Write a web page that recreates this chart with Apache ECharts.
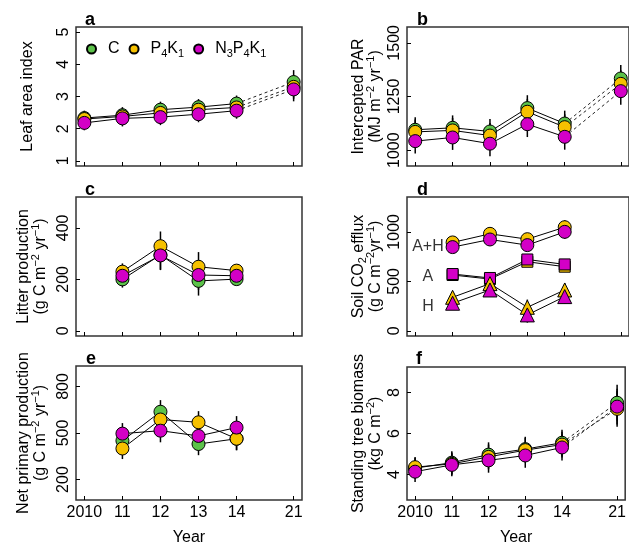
<!DOCTYPE html>
<html>
<head>
<meta charset="utf-8">
<script src="https://cdn.jsdelivr.net/npm/echarts@6/dist/echarts.min.js"></script>
<style>
html,body{margin:0;padding:0;background:#fff;}
#chart{width:629px;height:547px;}
</style>
</head>
<body>
<div id="chart"></div>
<script>
// ---------- data ----------
const years = [2010, 2011, 2012, 2013, 2014, 2021];
const xPositions = [0, 1, 2, 3, 4, 5.5];          // broken axis: 2021 drawn 1.5 units after 2014
const xTickLabels = ['2010', '11', '12', '13', '14', '21'];
const treatments = ['C', 'P4K1', 'N3P4K1'];
const colors = ['#5cc24a', '#f6c100', '#d300c6'];

// a: Leaf area index (2010-2014, 2021)
const laiC = [2.33, 2.42, 2.59, 2.67, 2.78, 3.45];
const laiP = [2.30, 2.38, 2.49, 2.59, 2.66, 3.30];
const laiN = [2.18, 2.32, 2.36, 2.45, 2.56, 3.22];
const laiErr = [0.23, 0.25, 0.25, 0.25, 0.25, 0.37];
const laiTicks = [1, 2, 3, 4, 5];

// b: Intercepted PAR
const parC = [1095, 1104, 1087, 1196, 1124, 1334];
const parP = [1085, 1092, 1068, 1179, 1107, 1309];
const parN = [1042, 1059, 1030, 1121, 1062, 1275];
const parErr = [58, 58, 58, 60, 60, 63];
const parTicks = [1000, 1250, 1500];

// c: Litter production (2011-2014)
const litC = [200, 295, 194, 201];
const litP = [230, 329, 249, 234];
const litN = [214, 293, 217, 214];
const litErr = [32, 57, 57, 24];
const litTicks = [0, 200, 400];

// d: Soil CO2 efflux (2011-2014), A+H / A / H, P4K1 and N3P4K1 only
const ahP = [893, 980, 926, 1047];
const ahN = [846, 923, 866, 1000];
const ahErr = [55, 52, 58, 70];
const aP = [564, 523, 698, 648];
const aN = [574, 534, 721, 671];
const aErr = [35, 35, 35, 35];
const hP = [339, 477, 238, 413];
const hN = [279, 413, 161, 346];
const hErr = [45, 55, 78, 68];
const effluxTicks = [0, 500, 1000];
const dLabels = ['A+H', 'A', 'H'];
const dLabelX = [0.34, 0.34, 0.34];
const dLabelY = [849, 547, 245];

// e: Net primary production (2011-2014)
const nppC = [450, 637, 429, 463];
const nppP = [400, 587, 569, 463];
const nppN = [496, 515, 481, 535];
const nppErr = [68, 75, 72, 74];
const nppTicks = [200, 500, 800];

// f: Standing tree biomass
const bioC = [4.31, 4.58, 4.97, 5.24, 5.55, 7.50];
const bioP = [4.36, 4.52, 4.86, 5.19, 5.46, 7.20];
const bioN = [4.14, 4.47, 4.69, 4.93, 5.32, 7.31];
const bioErr = [0.5, 0.55, 0.6, 0.6, 0.63, 0.87];
const bioTicks = [4, 6, 8];

// ---------- layout ----------
const grids = [
  {left: 76, top: 27, width: 226, height: 139},
  {left: 407, top: 27, width: 224, height: 139},
  {left: 76, top: 197, width: 226, height: 139},
  {left: 407, top: 197, width: 224, height: 139},
  {left: 76, top: 366, width: 226, height: 140},
  {left: 407, top: 367, width: 224, height: 139}
];
const yRanges = [[0.84, 5.16], [926, 1574], [-20, 520], [-52, 1352], [68, 932], [2.76, 9.24]];
const yTicks = [laiTicks, parTicks, litTicks, effluxTicks, nppTicks, bioTicks];

const richBase = {
  t: {fontSize: 16, lineHeight: 17, color: '#000', fontFamily: 'Liberation Sans'},
  sup: {fontSize: 11, lineHeight: 17, padding: [0, 0, 9, 0], color: '#000', fontFamily: 'Liberation Sans'},
  sub: {fontSize: 11, lineHeight: 17, padding: [8, 0, 0, 0], color: '#000', fontFamily: 'Liberation Sans'}
};
const yNames = [
  '{t|Leaf area index}',
  '{t|Intercepted PAR}\n{t|(MJ m}{sup|−2}{t| yr}{sup|−1}{t|)}',
  '{t|Litter production}\n{t|(g C m}{sup|−2}{t| yr}{sup|−1}{t|)}',
  '{t|Soil CO}{sub|2}{t| efflux}\n{t|(g C m}{sup|−2}{t|yr}{sup|−1}{t|)}',
  '{t|Net primary production}\n{t|(g C m}{sup|−2}{t| yr}{sup|−1}{t|)}',
  '{t|Standing tree biomass}\n{t|(kg C m}{sup|−2}{t|)}'
];
const yNameGaps = [40, 23, 27, 23, 27, 23];

const xAxes = grids.map((g, i) => ({
  type: 'value', gridIndex: i, min: -0.22, max: 5.72,
  axisLine: {show: false, onZero: false}, splitLine: {show: false},
  axisTick: {show: true, inside: true, length: 4, customValues: xPositions, lineStyle: {color: '#000', width: 1}},
  axisLabel: {show: i >= 4, customValues: xPositions, margin: 5, fontSize: 16, color: '#000', fontFamily: 'Liberation Sans',
    formatter: v => { const k = xPositions.indexOf(v); return k >= 0 ? xTickLabels[k] : ''; }},
  name: i >= 4 ? 'Year' : '', nameLocation: 'middle', nameGap: 30,
  nameTextStyle: {fontSize: 16, color: '#000', fontFamily: 'Liberation Sans'}
}));
const yAxes = grids.map((g, i) => ({
  type: 'value', gridIndex: i, min: yRanges[i][0], max: yRanges[i][1],
  axisLine: {show: false, onZero: false}, splitLine: {show: false},
  axisTick: {show: true, inside: true, length: 4, customValues: yTicks[i], lineStyle: {color: '#000', width: 1}},
  axisLabel: {customValues: yTicks[i], rotate: 90, margin: 4, fontSize: 16, color: '#000', fontFamily: 'Liberation Sans',
    formatter: v => String(v)},
  name: yNames[i], nameLocation: 'middle', nameRotate: 90, nameGap: yNameGaps[i],
  nameTextStyle: {rich: richBase}
}));

const series = [];
function pts(xs, ys) { return ys.map((v, k) => [xs[k], v]); }

function addTreatment(gi, ti, values, errs, xs, opts) {
  opts = opts || {};
  const col = colors[ti];
  series.push({
    type: 'custom', xAxisIndex: gi, yAxisIndex: gi, z: 1, silent: true,
    encode: {x: 0, y: [1, 2]},
    data: values.map((v, k) => [xs[k], v - errs[k], v + errs[k]]),
    renderItem: (params, api) => {
      const p1 = api.coord([api.value(0), api.value(1)]);
      const p2 = api.coord([api.value(0), api.value(2)]);
      return {type: 'line', shape: {x1: p1[0], y1: p1[1], x2: p2[0], y2: p2[1]},
        style: {stroke: '#000', lineWidth: 1.5}};
    }
  });
  const solidN = opts.dashedLast ? values.length - 1 : values.length;
  series.push({
    type: 'line', xAxisIndex: gi, yAxisIndex: gi, z: 2, silent: true, symbol: 'none',
    lineStyle: {color: '#000', width: 1}, data: pts(xs, values).slice(0, solidN)
  });
  if (opts.dashedLast) {
    series.push({
      type: 'line', xAxisIndex: gi, yAxisIndex: gi, z: 2, silent: true, symbol: 'none',
      lineStyle: {color: '#222', width: 1, type: [3, 3]}, data: pts(xs, values).slice(solidN - 1)
    });
  }
  series.push({
    type: 'scatter', name: opts.name === undefined ? treatments[ti] : opts.name,
    xAxisIndex: gi, yAxisIndex: gi, z: 3,
    symbol: opts.symbol || 'circle', symbolSize: opts.size || 13,
    itemStyle: {color: col, borderColor: '#000', borderWidth: 1, opacity: 1},
    data: pts(xs, values)
  });
}

const x6 = xPositions;
const x4 = xPositions.slice(1, 5);
// a
[laiC, laiP, laiN].forEach((v, ti) => addTreatment(0, ti, v, laiErr, x6, {dashedLast: true}));
// b
[parC, parP, parN].forEach((v, ti) => addTreatment(1, ti, v, parErr, x6, {dashedLast: true}));
// c
[litC, litP, litN].forEach((v, ti) => addTreatment(2, ti, v, litErr, x4));
// d
addTreatment(3, 1, ahP, ahErr, x4);
addTreatment(3, 2, ahN, ahErr, x4);
addTreatment(3, 1, aP, aErr, x4, {symbol: 'rect', size: 11});
addTreatment(3, 2, aN, aErr, x4, {symbol: 'rect', size: 11});
addTreatment(3, 1, hP, hErr, x4, {symbol: 'triangle', size: 14});
addTreatment(3, 2, hN, hErr, x4, {symbol: 'triangle', size: 14});
series.push({
  type: 'scatter', xAxisIndex: 3, yAxisIndex: 3, z: 4, symbolSize: 0, silent: true,
  data: dLabels.map((s, k) => ({name: s, value: [dLabelX[k], dLabelY[k]]})),
  label: {show: true, position: 'inside', formatter: p => p.name, fontSize: 16, color: '#000', fontFamily: 'Liberation Sans'}
});
// e
[nppC, nppP, nppN].forEach((v, ti) => addTreatment(4, ti, v, nppErr, x4));
// f
[bioC, bioP, bioN].forEach((v, ti) => addTreatment(5, ti, v, bioErr, x6, {dashedLast: true}));

const letters = ['a', 'b', 'c', 'd', 'e', 'f'];
const letterPos = [[85, 11], [417, 11], [85, 181], [417, 181], [86, 350], [416, 350]];

const legendRich = {
  n: {fontSize: 16, color: '#000', fontFamily: 'Liberation Sans', lineHeight: 18},
  s: {fontSize: 11, color: '#000', fontFamily: 'Liberation Sans', lineHeight: 18, padding: [9, 0, 0, 0]}
};
function legendName(n) {
  if (n === 'C') return '{n|C}';
  if (n === 'P4K1') return '{n|P}{s|4}{n|K}{s|1}';
  return '{n|N}{s|3}{n|P}{s|4}{n|K}{s|1}';
}

const option = {
  animation: false,
  backgroundColor: '#fff',
  textStyle: {fontFamily: 'Liberation Sans'},
  grid: grids.map(g => Object.assign({show: true, borderColor: '#333', borderWidth: 1.5, backgroundColor: 'transparent'}, g)),
  xAxis: xAxes,
  yAxis: yAxes,
  title: letters.map((l, k) => ({text: l, left: letterPos[k][0], top: letterPos[k][1], padding: 0,
    textStyle: {fontSize: 18, fontWeight: 'bold', color: '#000', fontFamily: 'Liberation Sans'}})),
  legend: {
    data: treatments, left: 86, top: 39, icon: 'circle', itemWidth: 9, itemHeight: 9, itemGap: 9,
    selectedMode: false, padding: 0,
    formatter: legendName,
    textStyle: {fontSize: 16, color: '#000', padding: [0, 0, 0, 7], rich: legendRich}
  },
  series: series
};

const chart = echarts.init(document.getElementById('chart'), null, {renderer: 'canvas'});
chart.setOption(option);
</script>
</body>
</html>
